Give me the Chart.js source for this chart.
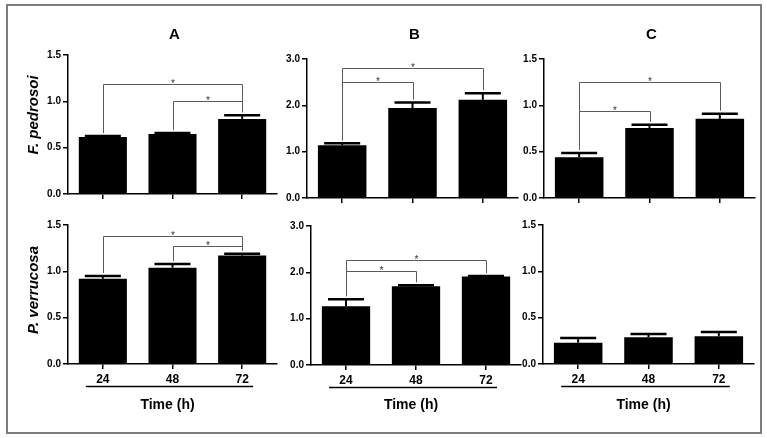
<!DOCTYPE html>
<html><head><meta charset="utf-8">
<script src="https://cdn.jsdelivr.net/npm/chart.js@4.4.0/dist/chart.umd.min.js"></script>
<style>
html,body{margin:0;padding:0;background:#fff;width:767px;height:438px;overflow:hidden;}
#frame{position:absolute;left:6px;top:4px;width:752px;height:426px;border:2px solid #7d7d7d;}
canvas{position:absolute;}
</style></head><body>
<div id="frame"></div>
<script>
// ---- data ----
const times = ['24', '48', '72'];
const panelTitles = ['A', 'B', 'C'];
const speciesNames = ['F. pedrosoi', 'P. verrucosa'];
const xAxisTitle = 'Time (h)';

const fpA = [0.615, 0.647, 0.81];
const fpAErr = [0.01, 0.01, 0.04];
const fpB = [1.14, 1.94, 2.12];
const fpBErr = [0.04, 0.12, 0.14];
const fpC = [0.44, 0.755, 0.855];
const fpCErr = [0.045, 0.035, 0.055];
const pvA = [0.92, 1.04, 1.17];
const pvAErr = [0.03, 0.04, 0.02];
const pvB = [1.27, 1.70, 1.91];
const pvBErr = [0.15, 0.02, 0.01];
const pvC = [0.23, 0.29, 0.30];
const pvCErr = [0.05, 0.035, 0.045];

// significance brackets: [fromIndex, toIndex, level]
const fpABrackets = [[0, 2, 1.19], [1, 2, 1.0]];
const fpBBrackets = [[0, 2, 2.81], [0, 1, 2.5]];
const fpCBrackets = [[0, 2, 1.25], [0, 1, 0.94]];
const pvABrackets = [[0, 2, 1.38], [1, 2, 1.27]];
const pvBBrackets = [[0, 2, 2.27], [0, 1, 2.03]];
const pvCBrackets = [];

const yMaxA = 1.5, yMaxB = 3.0, yMaxC = 1.5;
const yStepA = 0.5, yStepB = 1.0, yStepC = 0.5;

// ---- layout (positions only) ----
const FONT = '"Liberation Sans", Arial, Helvetica, sans-serif';
const panels = [
  {values: fpA, errors: fpAErr, brackets: fpABrackets, max: yMaxA, step: yStepA, title: panelTitles[0], species: speciesNames[0],
   box: {x: 10, y: 10, w: 280, h: 194}, area: {l: 68, t: 55, r: 277, b: 194}, bottom: false, speciesY: 115},
  {values: fpB, errors: fpBErr, brackets: fpBBrackets, max: yMaxB, step: yStepB, title: panelTitles[1], species: null,
   box: {x: 255, y: 10, w: 275, h: 198}, area: {l: 307, t: 59, r: 518, b: 198}, bottom: false},
  {values: fpC, errors: fpCErr, brackets: fpCBrackets, max: yMaxC, step: yStepC, title: panelTitles[2], species: null,
   box: {x: 495, y: 10, w: 265, h: 198}, area: {l: 544, t: 59, r: 755, b: 198}, bottom: false},
  {values: pvA, errors: pvAErr, brackets: pvABrackets, max: yMaxA, step: yStepA, title: null, species: speciesNames[1],
   box: {x: 10, y: 212, w: 280, h: 218}, area: {l: 68, t: 225, r: 277, b: 364}, bottom: true, speciesY: 290},
  {values: pvB, errors: pvBErr, brackets: pvBBrackets, max: yMaxB, step: yStepB, title: null, species: null,
   box: {x: 255, y: 212, w: 275, h: 218}, area: {l: 311, t: 226, r: 521, b: 365}, bottom: true},
  {values: pvC, errors: pvCErr, brackets: pvCBrackets, max: yMaxC, step: yStepC, title: null, species: null,
   box: {x: 495, y: 212, w: 265, h: 218}, area: {l: 543, t: 225, r: 754, b: 364}, bottom: true}
];

function decorPlugin(p) {
  return {
    id: 'decor',
    afterDatasetsDraw(chart) {
      const ctx = chart.ctx, xs = chart.scales.x, ys = chart.scales.y;
      const ox = p.box.x, oy = p.box.y;
      ctx.save();
      // error bars (upper only)
      ctx.strokeStyle = '#000';
      p.values.forEach((v, i) => {
        const cx = xs.getPixelForValue(i);
        const top = ys.getPixelForValue(v);
        const e = ys.getPixelForValue(v + p.errors[i]);
        ctx.lineWidth = 2;
        ctx.beginPath(); ctx.moveTo(cx, top); ctx.lineTo(cx, e); ctx.stroke();
        ctx.lineWidth = 2.5;
        ctx.beginPath(); ctx.moveTo(cx - 18, e); ctx.lineTo(cx + 18, e); ctx.stroke();
      });
      // significance brackets
      p.brackets.forEach(([i, j, lvl]) => {
        const xi = Math.round(xs.getPixelForValue(i)) + 0.5;
        const xj = Math.round(xs.getPixelForValue(j)) + 0.5;
        const yl = Math.round(ys.getPixelForValue(lvl)) + 0.5;
        const yi = ys.getPixelForValue(p.values[i] + p.errors[i]) - 3;
        const yj = ys.getPixelForValue(p.values[j] + p.errors[j]) - 3;
        ctx.strokeStyle = '#5a5a5a';
        ctx.lineWidth = 1;
        ctx.beginPath();
        ctx.moveTo(xi, yi); ctx.lineTo(xi, yl); ctx.lineTo(xj, yl); ctx.lineTo(xj, yj);
        ctx.stroke();
        ctx.fillStyle = '#333';
        ctx.font = '10px ' + FONT;
        ctx.textAlign = 'center';
        ctx.textBaseline = 'alphabetic';
        ctx.fillText('*', (xi + xj) / 2, yl + 2);
      });
      // panel title
      if (p.title) {
        ctx.fillStyle = '#000';
        ctx.font = 'bold 15px ' + FONT;
        ctx.textAlign = 'center';
        ctx.textBaseline = 'middle';
        ctx.fillText(p.title, (chart.chartArea.left + chart.chartArea.right) / 2 + 2, 35 - oy);
      }
      // species (y axis) label
      if (p.species) {
        ctx.save();
        ctx.translate(34 - ox, p.speciesY - oy);
        ctx.rotate(-Math.PI / 2);
        ctx.fillStyle = '#000';
        ctx.font = 'italic bold 15px ' + FONT;
        ctx.textAlign = 'center';
        ctx.textBaseline = 'middle';
        ctx.fillText(p.species, 0, 0);
        ctx.restore();
      }
      // underline + x axis title
      if (p.bottom) {
        const x0 = xs.getPixelForValue(0) - 17;
        const x1 = xs.getPixelForValue(times.length - 1) + 11;
        const ly = chart.chartArea.bottom + 22.5;
        ctx.strokeStyle = '#000';
        ctx.lineWidth = 1.5;
        ctx.beginPath(); ctx.moveTo(x0, ly); ctx.lineTo(x1, ly); ctx.stroke();
        ctx.fillStyle = '#000';
        ctx.font = 'bold 14px ' + FONT;
        ctx.textAlign = 'center';
        ctx.textBaseline = 'middle';
        ctx.fillText(xAxisTitle, (x0 + x1) / 2 - 2, 405 - oy);
      }
      ctx.restore();
    }
  };
}

panels.forEach((p) => {
  const c = document.createElement('canvas');
  c.width = p.box.w; c.height = p.box.h;
  c.style.left = p.box.x + 'px'; c.style.top = p.box.y + 'px';
  c.style.width = p.box.w + 'px'; c.style.height = p.box.h + 'px';
  document.body.appendChild(c);
  const yw = p.area.l - p.box.x;
  const pt = p.area.t - p.box.y;
  const pr = p.box.x + p.box.w - p.area.r;
  const xh = p.box.y + p.box.h - p.area.b;
  new Chart(c.getContext('2d'), {
    type: 'bar',
    data: {
      labels: times,
      datasets: [{data: p.values, backgroundColor: '#000', borderWidth: 0,
                  barPercentage: 0.69, categoryPercentage: 1.0}]
    },
    options: {
      responsive: false, animation: false, events: [],
      layout: {autoPadding: false, padding: {left: 0, top: pt, right: pr, bottom: 0}},
      plugins: {legend: {display: false}, tooltip: {enabled: false}, title: {display: false}},
      scales: {
        x: {
          offset: true,
          grid: {offset: false, drawOnChartArea: false, drawTicks: true, tickLength: 5, color: '#000', lineWidth: 1.5},
          border: {display: true, color: '#000', width: 1.5},
          ticks: {display: p.bottom, color: '#000', font: {family: FONT, size: 12, weight: 'bold'}, padding: 3, maxRotation: 0, autoSkip: false},
          afterFit(s) { s.height = xh; }
        },
        y: {
          min: 0, max: p.max,
          grid: {drawOnChartArea: false, drawTicks: true, tickLength: 5, color: '#000', lineWidth: 1.5},
          border: {display: true, color: '#000', width: 1.5},
          ticks: {stepSize: p.step, callback: (v) => Number(v).toFixed(1), color: '#000',
                  font: {family: FONT, size: 10, weight: 'bold'}, padding: 2},
          afterFit(s) { s.width = yw; }
        }
      }
    },
    plugins: [decorPlugin(p)]
  });
});
</script>
</body></html>
